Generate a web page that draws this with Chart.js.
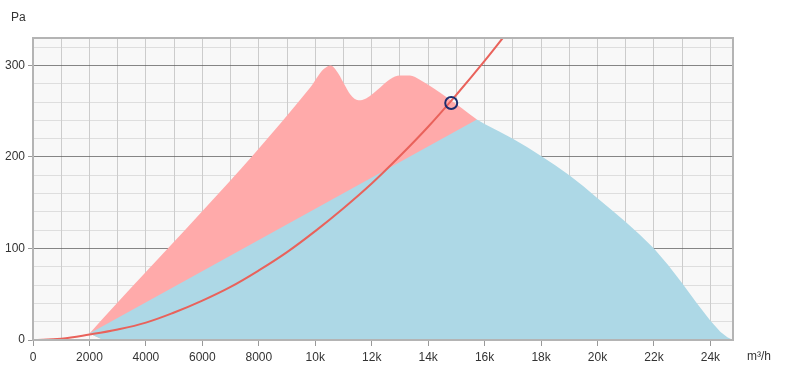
<!DOCTYPE html>
<html>
<head>
<meta charset="utf-8">
<script src="https://cdn.jsdelivr.net/npm/chart.js@4"></script>
<style>
  html, body { margin: 0; padding: 0; background: #fff; }
  #wrap { width: 787px; height: 385px; position: relative; }
</style>
</head>
<body>
<div id="wrap"><canvas id="fan-chart"></canvas></div>
<script>
// Fan operating chart: pressure (Pa) against air flow (m³/h)

// Upper operating range (pink)
const pinkFlow     = [2000, 9800, 10300, 10550, 10800, 11000, 11250, 11530, 11800, 12300, 12650, 13000, 13350, 13720, 14665, 15727];
const pinkPressure = [7, 275, 296, 300, 292, 281, 268, 262, 264, 276, 285, 289, 289, 284, 265, 241];

// Lower operating range (blue)
const blueFlow     = [2000, 15727, 16000, 16500, 17000, 17500, 18000, 18500, 19000, 19500, 20000, 20500, 21000, 21500, 22000, 22500, 23000, 23500, 24000, 24350, 24600, 24800];
const bluePressure = [7, 241, 236, 228, 220, 211, 201, 191, 180, 168, 155, 142, 129, 115, 100, 82, 62, 41, 21, 9, 3, 0];

// Bottom edge the two areas are filled down to
const floorFlow     = [2000, 2500, 24800];
const floorPressure = [7, 0, 0];

// System curve (red)
const systemFlow     = [0, 1000, 2000, 3000, 4000, 5000, 6000, 7000, 8000, 9000, 10000, 11000, 12000, 13000, 14000, 15000, 16000, 17000];
const systemPressure = [0, 1.5, 6, 11.5, 19, 30, 43, 58, 76, 96, 119, 144, 171, 201, 233, 268, 305, 344];

// Duty point
const dutyFlow     = [14817];
const dutyPressure = [259];

// Axis ticks (grid lines); labels only on the major ones
const flowTicks     = [0, 1000, 2000, 3000, 4000, 5000, 6000, 7000, 8000, 9000, 10000, 11000, 12000,
                       13000, 14000, 15000, 16000, 17000, 18000, 19000, 20000, 21000, 22000, 23000, 24000];
const pressureTicks = [0, 20, 40, 60, 80, 100, 120, 140, 160, 180, 200, 220, 240, 260, 280, 300, 320];
const flowMax      = 24800;
const pressureMax  = 330;
const flowUnit     = "m³/h";
const pressureUnit = "Pa";

const FONT = "'Liberation Sans', Arial, sans-serif";

function toPoints(xs, ys) {
    return xs.map((x, i) => ({ x: x, y: ys[i] }));
}

function isMajorFlow(v) {
    return Math.round(v) % 2000 === 0;
}

function isMajorPressure(v) {
    return Math.round(v) % 100 === 0;
}

function flowLabel(v) {
    v = Math.round(v);
    if (!isMajorFlow(v)) return "";
    if (v < 10000) return String(v);
    return (v / 1000) + "k";
}

// -----------------------------------------------------------------------
// Plot background, frame and unit captions
// -----------------------------------------------------------------------
const plotFrame = {
    id: "plotFrame",
    beforeDraw(chart) {
        const { ctx, chartArea: a } = chart;
        ctx.save();
        ctx.fillStyle = "#f8f8f8";
        ctx.fillRect(a.left, a.top, a.right - a.left, a.bottom - a.top);
        ctx.restore();
    },
    afterDraw(chart) {
        const { ctx, chartArea: a } = chart;
        ctx.save();
        ctx.strokeStyle = "#b4b4b4";
        ctx.lineWidth = 2;
        ctx.strokeRect(a.left, a.top, a.right - a.left, a.bottom - a.top);
        ctx.fillStyle = "#333";
        ctx.font = "12px " + FONT;
        ctx.textBaseline = "middle";
        ctx.textAlign = "left";
        ctx.fillText(pressureUnit, 11, 18);
        ctx.fillText(flowUnit, 747, 357);
        ctx.restore();
    }
};

new Chart(document.getElementById("fan-chart").getContext("2d"), {
    type: "scatter",
    data: {
        datasets: [
            {
                label: "Duty point",
                data: toPoints(dutyFlow, dutyPressure),
                showLine: false,
                pointRadius: 6,
                pointBorderWidth: 2,
                pointBorderColor: "#1c2d6e",
                pointBackgroundColor: "rgba(0,0,0,0)",
                order: 0,
            },
            {
                label: "System curve",
                data: toPoints(systemFlow, systemPressure),
                showLine: true,
                borderColor: "#e9625b",
                borderWidth: 2,
                pointRadius: 0,
                tension: 0.4,
                fill: false,
                clip: 0,
                order: 1,
            },
            {
                label: "Low range",
                data: toPoints(blueFlow, bluePressure),
                showLine: true,
                borderWidth: 0,
                borderColor: "rgba(0,0,0,0)",
                backgroundColor: "#add8e6",
                pointRadius: 0,
                tension: 0,
                fill: 4,
                order: 2,
            },
            {
                label: "High range",
                data: toPoints(pinkFlow, pinkPressure),
                showLine: true,
                borderWidth: 0,
                borderColor: "rgba(0,0,0,0)",
                backgroundColor: "#ffaaaa",
                pointRadius: 0,
                cubicInterpolationMode: "monotone",
                fill: 4,
                order: 3,
            },
            {
                label: "Floor",
                data: toPoints(floorFlow, floorPressure),
                showLine: true,
                borderWidth: 0,
                borderColor: "rgba(0,0,0,0)",
                pointRadius: 0,
                tension: 0,
                fill: false,
                order: 4,
            },
        ],
    },
    options: {
        responsive: true,
        maintainAspectRatio: false,
        animation: false,
        layout: { padding: { top: 38, right: 54, left: 0, bottom: 0 } },
        plugins: {
            legend: { display: false },
            tooltip: { enabled: false },
        },
        scales: {
            x: {
                type: "linear",
                min: 0,
                max: flowMax,
                z: 1,
                border: { display: false },
                afterBuildTicks: (scale) => { scale.ticks = flowTicks.map((v) => ({ value: v })); },
                afterFit: (scale) => { scale.height = 45; },
                grid: {
                    color: "rgba(185,185,185,0.7)",
                    lineWidth: 1,
                    tickLength: 6,
                    tickColor: (c) => (c.tick && isMajorFlow(c.tick.value)) ? "#999" : "rgba(0,0,0,0)",
                },
                ticks: {
                    autoSkip: false,
                    maxRotation: 0,
                    padding: 4,
                    color: "#333",
                    font: { family: FONT, size: 12 },
                    callback: (v) => flowLabel(v),
                },
            },
            y: {
                type: "linear",
                min: 0,
                max: pressureMax,
                z: 1,
                border: { display: false },
                afterBuildTicks: (scale) => { scale.ticks = pressureTicks.map((v) => ({ value: v })); },
                afterFit: (scale) => { scale.width = 33; },
                grid: {
                    color: (c) => (c.tick && isMajorPressure(c.tick.value)) ? "rgba(95,95,95,0.75)" : "rgba(205,205,205,0.6)",
                    lineWidth: 1,
                    tickLength: 5,
                    tickColor: (c) => (c.tick && isMajorPressure(c.tick.value)) ? "#999" : "rgba(0,0,0,0)",
                },
                ticks: {
                    autoSkip: false,
                    padding: 3,
                    color: "#333",
                    font: { family: FONT, size: 12 },
                    callback: (v) => (isMajorPressure(v) ? String(v) : ""),
                },
            },
        },
    },
    plugins: [plotFrame],
});
</script>
</body>
</html>
